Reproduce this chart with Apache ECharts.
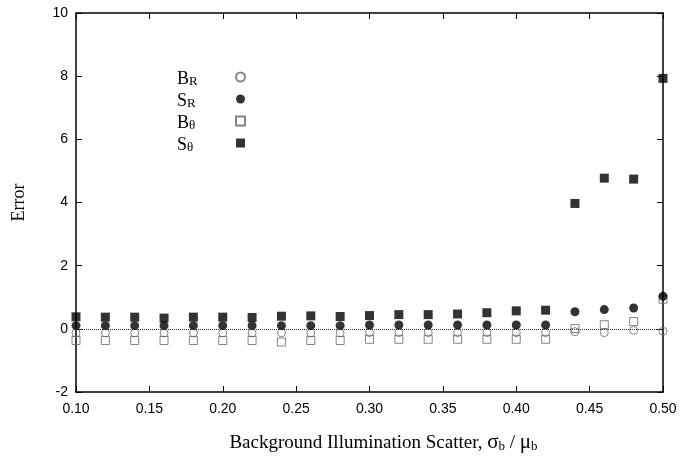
<!DOCTYPE html>
<html>
<head>
<meta charset="utf-8">
<script src="https://cdn.jsdelivr.net/npm/echarts@6/dist/echarts.min.js"></script>
<style>html,body{margin:0;padding:0;background:#fff}#c{width:681px;height:463px}</style>
</head>
<body>
<div id="c"></div>
<script>
var xValues = [0.10,0.12,0.14,0.16,0.18,0.20,0.22,0.24,0.26,0.28,0.30,0.32,0.34,0.36,0.38,0.40,0.42,0.44,0.46,0.48,0.50];
var B_R     = [-0.13,-0.13,-0.13,-0.13,-0.13,-0.13,-0.13,-0.13,-0.13,-0.13,-0.12,-0.12,-0.12,-0.12,-0.12,-0.12,-0.12,-0.09,-0.12,-0.05,-0.08];
var S_R     = [0.10,0.10,0.10,0.10,0.10,0.10,0.10,0.10,0.10,0.10,0.12,0.12,0.12,0.12,0.12,0.12,0.12,0.54,0.61,0.66,1.03];
var B_T     = [-0.37,-0.37,-0.37,-0.37,-0.37,-0.37,-0.37,-0.42,-0.37,-0.37,-0.33,-0.33,-0.33,-0.33,-0.33,-0.33,-0.33,0.01,0.13,0.23,0.94];
var S_T     = [0.38,0.37,0.37,0.34,0.37,0.37,0.36,0.40,0.41,0.39,0.42,0.45,0.45,0.47,0.51,0.57,0.59,3.97,4.77,4.74,7.93];
var xTicks  = [0.10,0.15,0.20,0.25,0.30,0.35,0.40,0.45,0.50];
var yTicks  = [-2,0,2,4,6,8,10];
var legendNames = ['B_R','S_R','B_T','S_T'];

function pairs(arr){ return xValues.map(function(x,i){ return [x, arr[i]]; }); }

var chart = echarts.init(document.getElementById('c'), null, {renderer:'canvas'});
var axisCommon = {
  axisLine:{show:true, onZero:false, lineStyle:{color:'#000', width:1.5}},
  axisTick:{show:true, inside:true, length:6, lineStyle:{color:'#000', width:1}},
  splitLine:{show:false}
};
var labelFont = {fontFamily:'Liberation Sans', fontSize:14, color:'#000'};
var serif = 'Liberation Serif';

chart.setOption({
  animation:false,
  backgroundColor:'#fff',
  grid:{left:76, right:18, top:13, bottom:71},
  legend:{
    orient:'vertical', left:172, top:61, align:'right', itemGap:0,
    itemWidth:9, itemHeight:9,
    data:legendNames,
    formatter:function(n){
      var map = {B_R:'{mb|B}{s|R}{gb|}', S_R:'{ms|S}{s|R}{gs|}', B_T:'{mb|B}{s|θ}{gb|}', S_T:'{ms|S}{s|θ}{gs|}'};
      return map[n];
    },
    textStyle:{
      color:'#000',
      rich:{
        mb:{fontFamily:serif, fontSize:18, color:'#000', lineHeight:22, width:12, align:'left', verticalAlign:'bottom'},
        ms:{fontFamily:serif, fontSize:18, color:'#000', lineHeight:22, width:10, align:'left', verticalAlign:'bottom'},
        s:{fontFamily:serif, fontSize:13, color:'#000', lineHeight:22, width:12, align:'left', verticalAlign:'bottom', padding:[9,0,0,0]},
        gb:{width:30, lineHeight:22, align:'left'},
        gs:{width:32, lineHeight:22, align:'left'}
      }
    }
  },
  xAxis:[
    Object.assign({type:'value', min:0.10, max:0.50, interval:0.05, position:'bottom',
      axisLabel:Object.assign({margin:10, formatter:function(v){return v.toFixed(2);}}, labelFont),
      name:'{n|Background Illumination Scatter, }{g|σ}{s|b}{n| / }{g|μ}{s|b}',
      nameLocation:'middle', nameGap:37,
      nameTextStyle:{padding:[0,0,0,28], rich:{
        n:{fontFamily:serif, fontSize:19, color:'#000', lineHeight:24, verticalAlign:'bottom'},
        g:{fontFamily:serif, fontSize:21, color:'#000', lineHeight:24, verticalAlign:'bottom'},
        s:{fontFamily:serif, fontSize:13, color:'#000', lineHeight:24, verticalAlign:'bottom', padding:[10,0,0,0]}
      }}
    }, axisCommon),
    Object.assign({type:'value', min:0.10, max:0.50, interval:0.05, position:'top', axisLabel:{show:false}}, axisCommon)
  ],
  yAxis:[
    Object.assign({type:'value', min:-2, max:10, interval:2, position:'left',
      axisLabel:Object.assign({margin:8}, labelFont),
      name:'Error', nameLocation:'middle', nameGap:48, nameRotate:90,
      nameTextStyle:{fontFamily:serif, fontSize:18, color:'#000'}
    }, axisCommon),
    Object.assign({type:'value', min:-2, max:10, interval:2, position:'right', axisLabel:{show:false}}, axisCommon)
  ],
  series:[
    {name:'B_R', type:'scatter', data:pairs(B_R), symbol:'circle', symbolSize:8, z:3,
      itemStyle:{color:'rgba(255,255,255,0)', borderColor:'#666', borderWidth:1},
      markLine:{silent:true, symbol:'none', label:{show:false},
        lineStyle:{color:'#333', type:'dotted', width:1},
        data:[[{coord:[0.10,0]},{coord:[0.50,0]}]]}
    },
    {name:'S_R', type:'scatter', data:pairs(S_R), symbol:'circle', symbolSize:9, z:4,
      itemStyle:{color:'#000'}},
    {name:'B_T', type:'scatter', data:pairs(B_T), symbol:'rect', symbolSize:8, z:3,
      itemStyle:{color:'rgba(255,255,255,0)', borderColor:'#666', borderWidth:1}},
    {name:'S_T', type:'scatter', data:pairs(S_T), symbol:'rect', symbolSize:9, z:4,
      itemStyle:{color:'#000'}}
  ]
});
</script>
</body>
</html>
